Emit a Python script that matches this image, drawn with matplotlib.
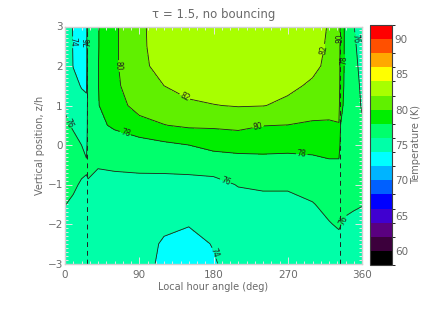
import numpy as np
import matplotlib
matplotlib.use('Agg')
import matplotlib.pyplot as plt
from matplotlib.colors import ListedColormap, BoundaryNorm
from matplotlib.ticker import MultipleLocator

# ── data ──
hour_angle = [0, 10, 20, 26, 28, 40, 60, 90, 120, 150, 180, 210,
              240, 270, 300, 320, 332, 334, 340, 350, 360]
z_levels = [3, 2.5, 2, 1.5, 1, 0.5, 0, -0.5, -1, -1.5, -2, -2.5, -3]

# temperature (K) per hour angle column, from z=3 down to z=-3
T_cols = [
    [75.2, 75.3, 75.4, 75.6, 75.8, 76.3, 76.8, 77.0, 76.8, 76.05, 75.6, 75.4, 75.3],
    [73.9, 73.9, 73.95, 74.5, 75.3, 75.8, 76.5, 77.0, 76.3, 75.7, 75.4, 75.3, 75.2],
    [73.2, 73.2, 73.3, 73.9, 74.6, 75.3, 76.0, 76.5, 75.8, 75.4, 75.3, 75.2, 75.1],
    [73.0, 73.0, 73.2, 73.7, 74.5, 75.0, 75.6, 76.2, 75.8, 75.4, 75.3, 75.2, 75.1],
    [77.3, 77.3, 77.3, 77.3, 77.2, 77.0, 76.8, 76.5, 75.8, 75.4, 75.3, 75.2, 75.1],
    [77.9, 77.9, 77.95, 77.95, 77.9, 77.6, 77.1, 76.1, 75.6, 75.3, 75.2, 75.1, 75.0],
    [79.7, 79.7, 79.7, 79.6, 79.3, 78.3, 77.0, 76.2, 75.6, 75.3, 75.2, 75.1, 75.0],
    [81.6, 81.6, 81.5, 81.2, 80.6, 79.4, 77.1, 76.3, 75.6, 75.3, 75.2, 75.1, 74.9],
    [83.0, 82.9, 82.7, 82.0, 81.0, 79.95, 77.6, 76.4, 75.5, 75.0, 74.5, 73.7, 73.5],
    [83.3, 83.2, 83.0, 82.6, 81.7, 80.3, 78.0, 76.5, 75.5, 74.9, 74.1, 73.4, 73.3],
    [83.4, 83.3, 83.1, 82.7, 81.95, 80.3, 78.5, 76.9, 75.4, 75.1, 74.8, 74.1, 73.8],
    [83.3, 83.2, 83.0, 82.6, 82.1, 80.5, 78.6, 77.2, 76.1, 75.3, 75.0, 74.9, 75.0],
    [83.2, 83.1, 82.9, 82.5, 82.05, 80.05, 78.6, 77.3, 76.3, 75.4, 75.0, 74.8, 74.6],
    [83.0, 82.9, 82.7, 82.3, 81.7, 79.97, 78.5, 77.3, 76.3, 75.4, 75.0, 74.8, 74.6],
    [82.6, 82.5, 82.3, 81.8, 81.0, 79.7, 78.4, 77.6, 76.7, 75.9, 75.4, 75.1, 74.9],
    [81.9, 81.8, 81.7, 81.4, 80.8, 79.7, 78.7, 77.7, 77.0, 76.5, 75.9, 75.4, 75.1],
    [81.5, 81.5, 81.4, 81.2, 80.6, 79.9, 78.7, 77.7, 77.1, 76.6, 76.2, 75.5, 75.2],
    [79.2, 79.1, 79.0, 78.8, 78.5, 78.0, 77.6, 77.2, 76.9, 76.6, 76.05, 75.6, 75.3],
    [77.6, 77.6, 77.6, 77.6, 77.5, 77.3, 77.2, 77.0, 76.7, 76.3, 75.8, 75.4, 75.2],
    [76.05, 76.3, 76.6, 76.9, 77.1, 77.2, 77.2, 77.0, 76.7, 76.2, 75.6, 75.3, 75.2],
    [75.2, 75.3, 75.4, 75.6, 75.8, 76.3, 76.8, 77.0, 76.8, 76.05, 75.6, 75.4, 75.3],
]

# sunrise / sunset hour angles (dashed markers)
sunrise_deg = 27
sunset_deg = 333

# colour table 58..92 K in 2 K steps
band_edges = list(range(58, 93, 2))
band_colors = ['#000000', '#3c003c', '#5a0080', '#4000d0', '#0000ff', '#0060ff',
               '#00b4ff', '#00ffff', '#00ffa8', '#00ff6c', '#00ee00', '#60f000',
               '#a8ff00', '#ffff00', '#ffa800', '#ff5000', '#ff0000']

label_spots = [(12, 2.6), (27, 2.6), (62, 2.0), (142, 1.1), (73, 0.3),
               (234, 0.48), (287, -0.23), (194, -0.94), (4, 0.55),
               (318, 2.4), (333, 2.7), (339, 2.15), (349, 2.7),
               (337, -1.9), (179, -2.75)]

# ── build grid ──
X, Z = np.meshgrid(hour_angle, z_levels)
T = np.array(T_cols).T

cmap = ListedColormap(band_colors)
norm = BoundaryNorm(band_edges, cmap.N)

txt = '#6a6a6a'
fig = plt.figure(figsize=(4.36, 3.12), dpi=100)
ax = fig.add_axes([65/436, 1 - 263.5/312, 297/436, 237/312])
cax = fig.add_axes([370/436, 1 - 265/312, 22/436, 240/312])

cf = ax.contourf(X, Z, T, levels=band_edges, cmap=cmap, norm=norm)
cs = ax.contour(X, Z, T, levels=band_edges, colors='#202020', linewidths=0.6)
ax.clabel(cs, fmt='%d', fontsize=5.5, inline=True, inline_spacing=1,
          manual=label_spots)

ax.axvline(sunrise_deg, color='#202020', lw=0.7, ls=(0, (5, 4)))
ax.axvline(sunset_deg, color='#202020', lw=0.7, ls=(0, (5, 4)))

ax.set_xlim(0, 360)
ax.set_ylim(-3, 3)
ax.xaxis.set_major_locator(MultipleLocator(90))
ax.xaxis.set_minor_locator(MultipleLocator(10))
ax.yaxis.set_major_locator(MultipleLocator(1))
ax.yaxis.set_minor_locator(MultipleLocator(0.1))
ax.tick_params(which='both', direction='in', top=True, right=True,
               color='#e6e6e6', labelcolor=txt, labelsize=7.5, width=0.7)
ax.tick_params(which='major', length=5)
ax.tick_params(which='minor', length=2.5)
ax.tick_params(axis='x', which='major', pad=5)
ax.tick_params(axis='y', which='major', pad=1.5)
for sp in ax.spines.values():
    sp.set_color('#d0d0d0')
    sp.set_linewidth(1.0)

ax.set_xlabel('Local hour angle (deg)', color=txt, fontsize=7, labelpad=1)
ax.set_ylabel('Vertical position, z/h', color=txt, fontsize=7, labelpad=2)
ax.set_title('τ = 1.5, no bouncing', color=txt, fontsize=8.5, pad=6)

cb = fig.colorbar(cf, cax=cax, ticks=[60, 65, 70, 75, 80, 85, 90])
cb.outline.set_edgecolor('#404040')
cb.outline.set_linewidth(0.8)
cax.tick_params(length=0, labelcolor=txt, labelsize=7.5, pad=2)
cb.set_label('Temperature (K)', color=txt, fontsize=7, labelpad=2)

fig.savefig('out.png', dpi=100)
